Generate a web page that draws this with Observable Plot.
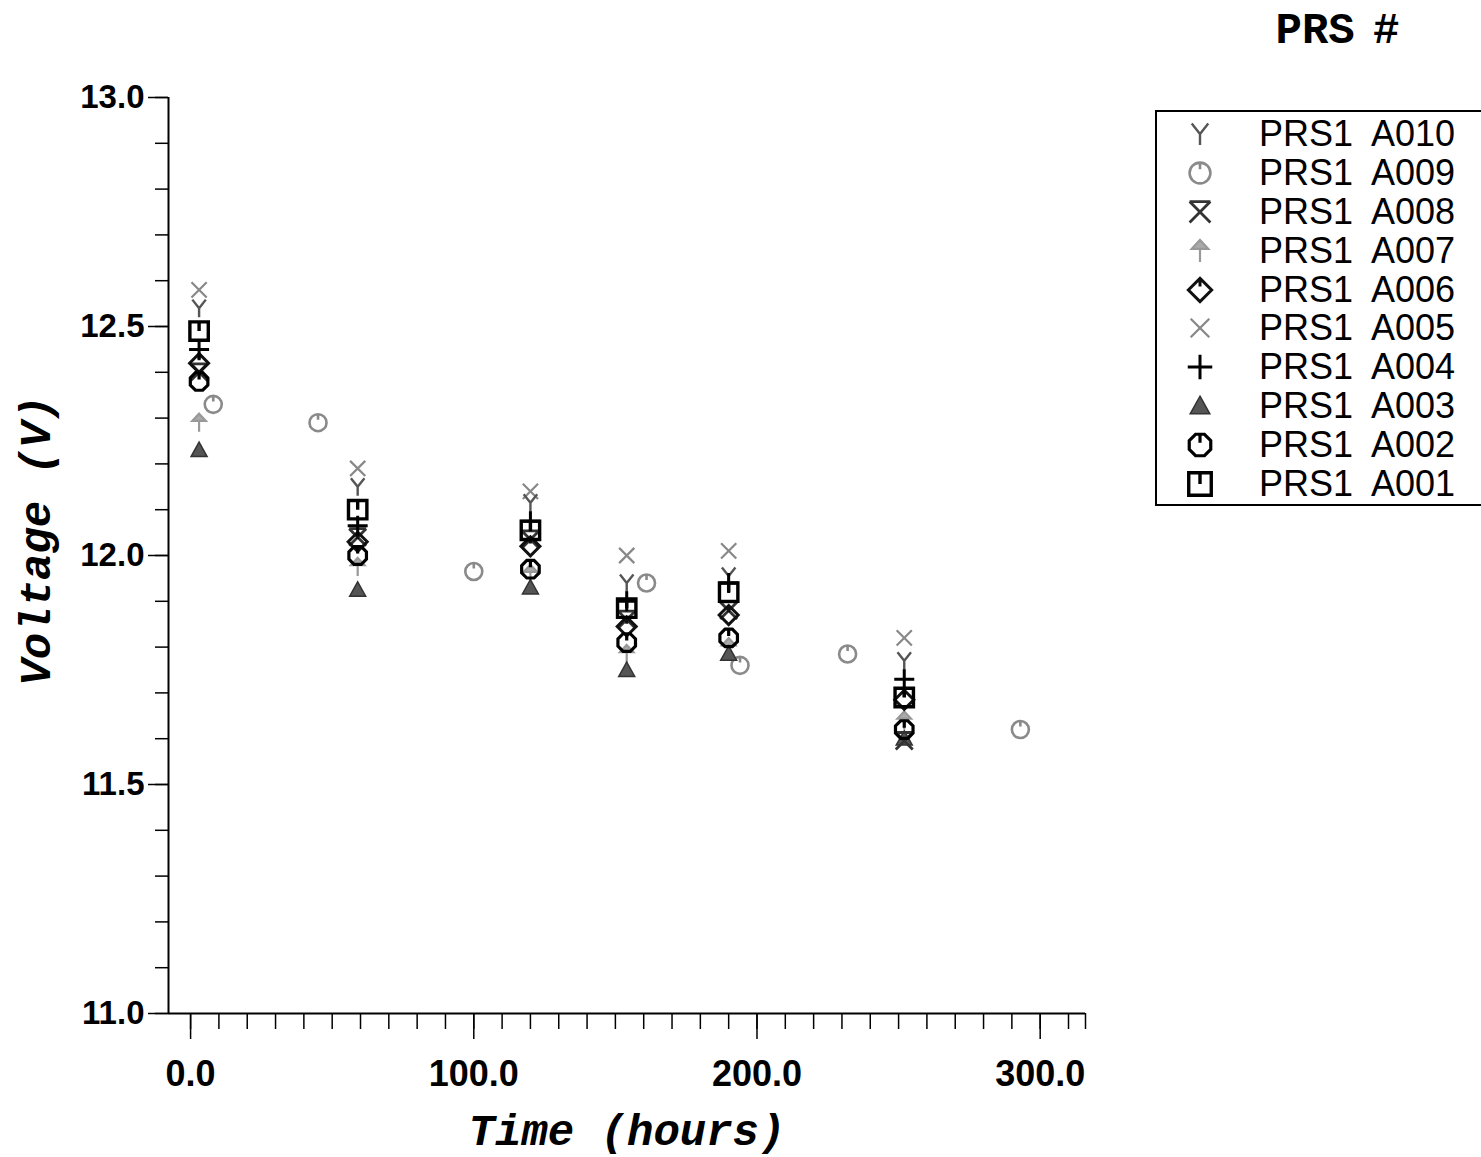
<!DOCTYPE html>
<html>
<head>
<meta charset="utf-8">
<script src="https://cdn.jsdelivr.net/npm/d3@7"></script>
<script src="https://cdn.jsdelivr.net/npm/@observablehq/plot@0.6"></script>
<style>
  html, body { margin: 0; padding: 0; background: white; overflow: hidden; }
  #wrap { position: relative; width: 1481px; height: 1157px; }
  #title { position: absolute; left: 1230px; top: 6px; width: 215px; text-align: center;
           font-family: "Liberation Mono", monospace; font-weight: bold; font-size: 44px; color: black;
           word-spacing: -8px; }
  #legend { position: absolute; left: 1155px; top: 110px; width: 340px; height: 396px;
            border: 2px solid black; box-sizing: border-box; padding-top: 3px; }
  .row { display: flex; align-items: center; height: 38.8px; }
  .row svg { margin-left: 20px; width: 46px; height: 38px; flex: none; }
  .row span { margin-left: 36px; font-family: "Liberation Sans", Arial, sans-serif; font-size: 36px;
              word-spacing: 10px; color: black; line-height: 1; }
</style>
</head>
<body>
<div id="wrap">
  <div id="chart"></div>
  <div id="title">PRS #</div>
  <div id="legend"></div>
</div>
<script>
// ---- data ----
const seriesNames = ["PRS1 A010", "PRS1 A009", "PRS1 A008", "PRS1 A007", "PRS1 A006",
                     "PRS1 A005", "PRS1 A004", "PRS1 A003", "PRS1 A002", "PRS1 A001"];
const clusterTimes = [3, 59, 120, 154, 190, 252];
const A010 = [12.54, 12.15, 12.115, 11.94, 11.955, 11.77];
const A009_times = [8, 45, 100, 161, 194, 232, 293];
const A009 = [12.33, 12.29, 11.965, 11.94, 11.76, 11.785, 11.62];
const A008 = [12.40, 12.04, 12.035, 11.86, 11.88, 11.595];
const A007 = [12.29, 11.975, 11.96, 11.785, 11.80, 11.64];
const A006 = [12.42, 12.03, 12.02, 11.845, 11.87, 11.685];
const A005 = [12.58, 12.19, 12.14, 12.00, 12.01, 11.82];
const A004 = [12.45, 12.065, 12.075, 11.90, 11.94, 11.73];
const A003 = [12.23, 11.925, 11.93, 11.75, 11.785, 11.60];
const A002 = [12.38, 12.00, 11.97, 11.81, 11.82, 11.62];
const A001 = [12.49, 12.10, 12.055, 11.885, 11.92, 11.69];

const xMajorTicks = [0, 100, 200, 300];
const yMajorTicks = [11.0, 11.5, 12.0, 12.5, 13.0];
const xDomain = [-7.8, 316];
const yDomain = [11, 13];

// ---- custom symbols ----
const R = (size) => Math.sqrt(size / Math.PI);
const symWye = { draw(c, s) { const r = R(s);
  c.moveTo(0, 0); c.lineTo(-0.75 * r, -0.95 * r);
  c.moveTo(0, 0); c.lineTo(0.75 * r, -0.95 * r);
  c.moveTo(0, 0); c.lineTo(0, r); } };
const symClock = { draw(c, s) { const r = R(s);
  c.moveTo(r, 0); c.arc(0, 0, r, 0, 2 * Math.PI);
  c.moveTo(0, -r); c.lineTo(0, -0.35 * r); } };
const symBarX = { draw(c, s) { const r = R(s);
  c.moveTo(-r, -r); c.lineTo(r, -r);
  c.moveTo(-r, -r); c.lineTo(r, r);
  c.moveTo(r, -r); c.lineTo(-r, r); } };
const symArrow = { draw(c, s) { const r = R(s);
  c.moveTo(0, -r); c.lineTo(0.75 * r, -0.2 * r); c.lineTo(-0.75 * r, -0.2 * r); c.closePath();
  c.moveTo(0, -0.2 * r); c.lineTo(0, r); } };
const symDiamond = { draw(c, s) { const r = R(s);
  c.moveTo(0, -r); c.lineTo(r, 0); c.lineTo(0, r); c.lineTo(-r, 0); c.closePath();
  c.moveTo(0, -r); c.lineTo(0, -0.3 * r); } };
const symTimes = { draw(c, s) { const r = R(s) * 0.8;
  c.moveTo(-r, -r); c.lineTo(r, r); c.moveTo(r, -r); c.lineTo(-r, r); } };
const symPlus = { draw(c, s) { const r = R(s);
  c.moveTo(-r, 0); c.lineTo(r, 0); c.moveTo(0, -r); c.lineTo(0, r); } };
const symTriangle = { draw(c, s) { const r = R(s);
  c.moveTo(0, -r); c.lineTo(r, 0.8 * r); c.lineTo(-r, 0.8 * r); c.closePath(); } };
const symOctagon = { draw(c, s) { const r = R(s);
  for (let i = 0; i < 8; i++) { const a = Math.PI / 8 + i * Math.PI / 4;
    const px = r * Math.cos(a), py = r * Math.sin(a);
    if (i === 0) c.moveTo(px, py); else c.lineTo(px, py); }
  c.closePath();
  c.moveTo(0, -r * 0.92); c.lineTo(0, -0.2 * r); } };
const symSquare = { draw(c, s) { const r = R(s) * 0.92;
  c.moveTo(-r, -r); c.lineTo(r, -r); c.lineTo(r, r); c.lineTo(-r, r); c.closePath();
  c.moveTo(0, -r); c.lineTo(0, 0); } };

const specs = [
  { name: seriesNames[0], t: clusterTimes, v: A010, sym: symWye,     fill: "none", stroke: "#555", sw: 2.4, r: 9 },
  { name: seriesNames[1], t: A009_times,   v: A009, sym: symClock,   fill: "none", stroke: "#8a8a8a", sw: 2.6, r: 8.5 },
  { name: seriesNames[2], t: clusterTimes, v: A008, sym: symBarX,    fill: "none", stroke: "#333", sw: 2.8, r: 8.5 },
  { name: seriesNames[3], t: clusterTimes, v: A007, sym: symArrow,   fill: "#aaa", stroke: "#999", sw: 2.2, r: 9 },
  { name: seriesNames[4], t: clusterTimes, v: A006, sym: symDiamond, fill: "none", stroke: "#111", sw: 3, r: 9.5 },
  { name: seriesNames[5], t: clusterTimes, v: A005, sym: symTimes,   fill: "none", stroke: "#888", sw: 2.2, r: 9.5 },
  { name: seriesNames[6], t: clusterTimes, v: A004, sym: symPlus,    fill: "none", stroke: "#000", sw: 3, r: 10 },
  { name: seriesNames[7], t: clusterTimes, v: A003, sym: symTriangle,fill: "#555", stroke: "#333", sw: 1.5, r: 8 },
  { name: seriesNames[8], t: clusterTimes, v: A002, sym: symOctagon, fill: "none", stroke: "#000", sw: 3.2, r: 9.5 },
  { name: seriesNames[9], t: clusterTimes, v: A001, sym: symSquare,  fill: "none", stroke: "#000", sw: 3.4, r: 10 }
];
const drawOrder = [1, 3, 5, 0, 7, 2, 4, 6, 8, 9];

const rowsOf = (s) => s.t.map((t, i) => ({ t, v: s.v[i], name: s.name }));

const tickFont = { fontFamily: "Liberation Sans", fontWeight: "bold" };

const chart = Plot.plot({
  width: 1481,
  height: 1157,
  marginLeft: 168,
  marginRight: 396,
  marginTop: 97,
  marginBottom: 144,
  style: { background: "white", color: "black", fontFamily: "Liberation Sans" },
  x: { domain: xDomain },
  y: { domain: yDomain },
  marks: [
    Plot.ruleX([xDomain[0]], { stroke: "black", strokeWidth: 2 }),
    Plot.ruleY([yDomain[0]], { stroke: "black", strokeWidth: 2 }),
    Plot.axisX({ ticks: [...d3.range(0, 311, 10), xDomain[1]], tickSize: 16, tickFormat: () => "", label: null, strokeWidth: 1.5 }),
    Plot.axisX({ ticks: xMajorTicks, tickSize: 26, tickPadding: 21, tickFormat: (d) => d.toFixed(1),
                 label: null, fontSize: 36, strokeWidth: 1.5, ...tickFont }),
    Plot.axisY({ ticks: d3.range(110, 131).map((d) => d / 10), tickSize: 13, tickFormat: () => "", label: null, strokeWidth: 1.5 }),
    Plot.axisY({ ticks: yMajorTicks, tickSize: 20, tickPadding: 4, tickFormat: (d) => d.toFixed(1),
                 label: null, fontSize: 33, strokeWidth: 1.5, ...tickFont }),
    Plot.text(["Time (hours)"], { text: (d) => d, frameAnchor: "bottom", dy: 117,
      textAnchor: "middle", lineAnchor: "middle",
      fontFamily: "Liberation Mono", fontStyle: "italic", fontWeight: "bold", fontSize: 44, fill: "black" }),
    Plot.text(["Voltage (V)"], { text: (d) => d, frameAnchor: "left", dx: -133, dy: -15, rotate: -90,
      textAnchor: "middle", lineAnchor: "middle",
      fontFamily: "Liberation Mono", fontStyle: "italic", fontWeight: "bold", fontSize: 44, fill: "black" }),
    ...drawOrder.map((k) => {
      const s = specs[k];
      return Plot.dot(rowsOf(s), { x: "t", y: "v", symbol: s.sym, r: s.r,
        fill: s.fill, stroke: s.stroke, strokeWidth: s.sw, title: "name" });
    })
  ]
});
document.getElementById("chart").appendChild(chart);

// ---- legend ----
const legend = d3.select("#legend");
for (const s of specs) {
  const row = legend.append("div").attr("class", "row");
  const svg = row.append("svg").attr("viewBox", "0 0 46 38");
  svg.append("path")
    .attr("d", d3.symbol(s.sym, Math.PI * s.r * s.r * 1.5)())
    .attr("transform", "translate(23,19)")
    .attr("fill", s.fill).attr("stroke", s.stroke).attr("stroke-width", s.sw);
  row.append("span").text(s.name);
}
</script>
</body>
</html>
